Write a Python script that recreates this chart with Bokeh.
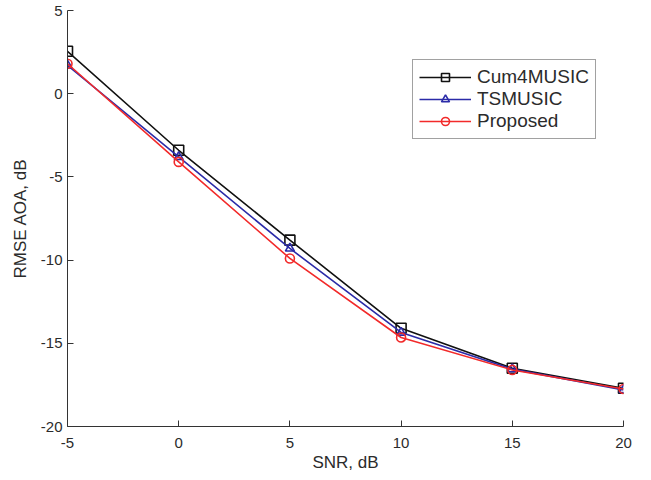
from bokeh.plotting import figure
from bokeh.models import FixedTicker, Legend, LegendItem, Range1d
from bokeh.embed import file_html
from bokeh.resources import INLINE

snr = [-5, 0, 5, 10, 15, 20]
cum4music = [2.55, -3.4, -8.8, -14.1, -16.5, -17.7]
tsmusic = [1.7, -3.8, -9.3, -14.35, -16.55, -17.8]
proposed = [1.8, -4.1, -9.9, -14.65, -16.6, -17.75]

x_ticks = [-5, 0, 5, 10, 15, 20]
y_ticks = [-20, -15, -10, -5, 0, 5]

FONT = "Liberation Sans"
TXT = "#2b2b2b"

p = figure(width=640, height=475, output_backend="svg", toolbar_location=None,
           x_range=Range1d(-5, 20), y_range=Range1d(-20, 5),
           min_border_left=67, min_border_right=17, min_border_top=10, min_border_bottom=49)
p.outline_line_color = None
p.xgrid.visible = False
p.ygrid.visible = False

for ax in (p.xaxis[0], p.yaxis[0]):
    ax.axis_line_color = "#333333"
    ax.axis_line_width = 1
    ax.major_tick_line_color = "#333333"
    ax.major_tick_in = 6
    ax.major_tick_out = 0
    ax.minor_tick_line_color = None
    ax.major_label_text_font = FONT
    ax.major_label_text_font_size = "15px"
    ax.major_label_text_color = TXT
    ax.axis_label_text_font = FONT
    ax.axis_label_text_font_size = "17px"
    ax.axis_label_text_font_style = "normal"
    ax.axis_label_text_color = TXT

p.xaxis.ticker = FixedTicker(ticks=x_ticks)
p.yaxis.ticker = FixedTicker(ticks=y_ticks)
p.xaxis.major_label_overrides = {t: str(t) for t in x_ticks}
p.yaxis.major_label_overrides = {t: str(t) for t in y_ticks}
p.xaxis.axis_label = "SNR, dB"
p.yaxis.axis_label = "RMSE AOA, dB"
p.xaxis.major_label_standoff = 11
p.yaxis.major_label_standoff = 5
p.xaxis.axis_label_standoff = 2
p.yaxis.axis_label_standoff = 8

series = [
    ("Cum4MUSIC", cum4music, "#111111", "square", 10),
    ("TSMUSIC", tsmusic, "#2b2ba8", "triangle", 9),
    ("Proposed", proposed, "#f22a2a", "circle", 9),
]
items = []
for name, ys, col, mk, sz in series:
    l = p.line(snr, ys, line_color=col, line_width=1.6)
    s = p.scatter(snr, ys, marker=mk, size=sz, line_color=col, fill_color=None, line_width=1.6)
    items.append(LegendItem(label=name, renderers=[l, s]))

legend = Legend(items=items, location=(345, 287), orientation="vertical")
legend.label_text_font = FONT
legend.label_text_font_size = "19px"
legend.label_text_color = TXT
legend.glyph_width = 52
legend.glyph_height = 20
legend.label_height = 20
legend.label_standoff = 6
legend.spacing = 0
legend.padding = 6
legend.margin = 0
legend.border_line_color = "#444444"
legend.border_line_width = 1
legend.background_fill_color = "white"
legend.background_fill_alpha = 1
p.add_layout(legend)

open("out.html", "w").write(file_html(p, INLINE))
